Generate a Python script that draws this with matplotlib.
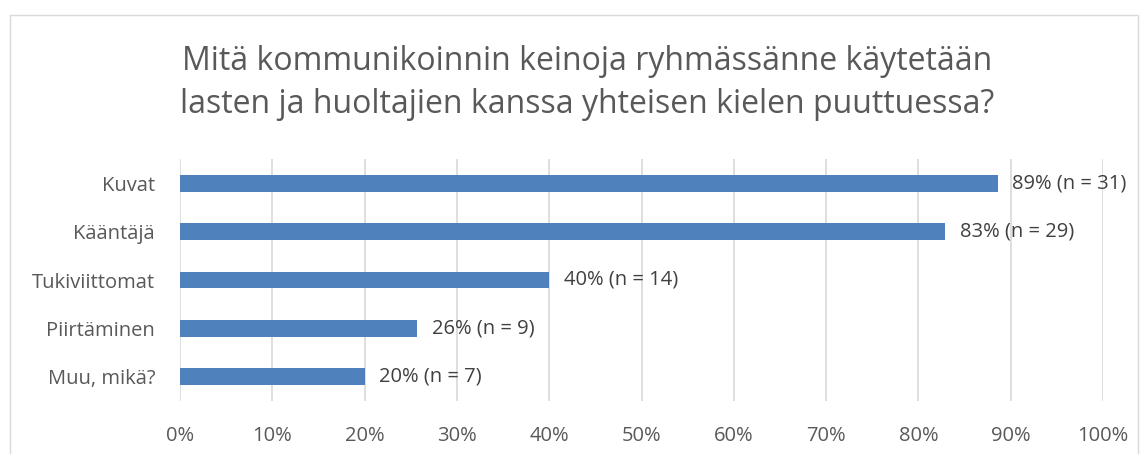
import matplotlib.pyplot as plt
from matplotlib.patches import Rectangle

# Data
categories = ["Kuvat", "Kääntäjä", "Tukiviittomat", "Piirtäminen", "Muu, mikä?"]
counts = [31, 29, 14, 9, 7]
total = 35
shares = [c / total * 100 for c in counts]
ticks = [0, 10, 20, 30, 40, 50, 60, 70, 80, 90, 100]

plt.rcParams['font.family'] = ['Open Sans', 'DejaVu Sans']

fig = plt.figure(figsize=(11.47, 4.54), dpi=100)
ax = fig.add_axes([180 / 1147, 1 - 401 / 454, 923 / 1147, 242 / 454])

# chart border (Excel style)
fig.patches.append(Rectangle((10 / 1147, -0.1), 1128 / 1147, 1.1 - 15 / 454,
                             transform=fig.transFigure, fill=False,
                             edgecolor='#d9d9d9', linewidth=1))

y = list(range(len(categories)))
ax.barh(y, shares, height=0.35, color='#4f81bd', zorder=3)
for yi, s, c in zip(y, shares, counts):
    ax.text(s + 1.6, yi, f"{round(s)}% (n = {c})", va='center', ha='left',
            fontsize=14.5, color='#404040', zorder=4)

ax.set_xlim(0, 100)
ax.set_ylim(len(categories) - 0.5, -0.5)
ax.set_yticks(y)
ax.set_yticklabels(categories)
ax.set_xticks(ticks)
ax.set_xticklabels([f"{t}%" for t in ticks])
ax.tick_params(axis='both', length=0, labelsize=14.5, labelcolor='#595959')
ax.tick_params(axis='x', pad=18)
ax.tick_params(axis='y', pad=18)
ax.grid(axis='x', color='#d9d9d9', linewidth=1.2, zorder=0)
for sp in ax.spines.values():
    sp.set_visible(False)

fig.text(587 / 1147, 1 - 83 / 454,
         "Mitä kommunikoinnin keinoja ryhmässänne käytetään\nlasten ja huoltajien kanssa yhteisen kielen puuttuessa?",
         ha='center', va='center', fontsize=23, color='#595959', linespacing=1.4)

fig.savefig("out.png", dpi=100)
